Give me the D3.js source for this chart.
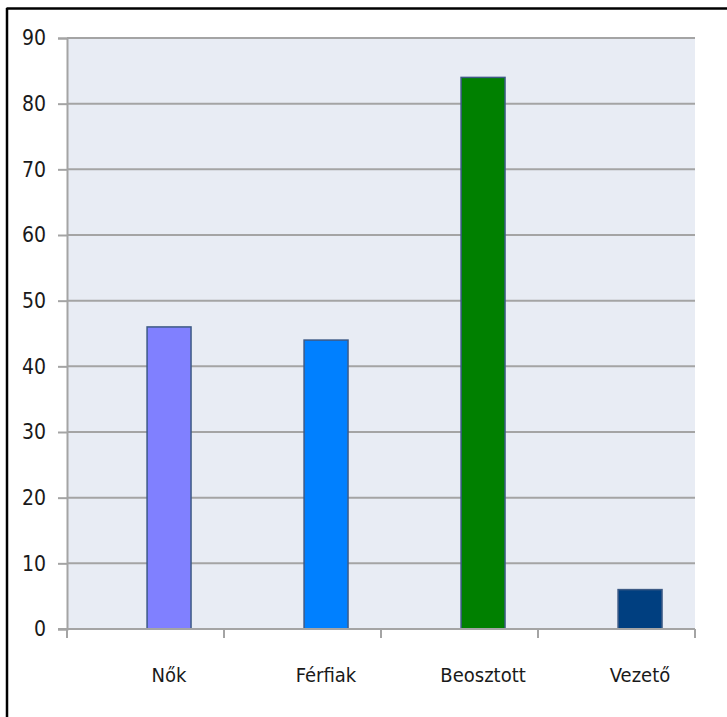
<!DOCTYPE html>
<html>
<head>
<meta charset="utf-8">
<script src="https://cdn.jsdelivr.net/npm/d3@7"></script>
<style>
  html, body { margin: 0; padding: 0; background: #ffffff; }
  svg { display: block; }
  text { font-family: "Liberation Sans Narrow", "DejaVu Sans Condensed", "DejaVu Sans", sans-serif; font-stretch: condensed; fill: #1a1a1a; }
</style>
</head>
<body>
<svg id="chart" width="727" height="717"></svg>
<script>
const categories = ["Nők", "Férfiak", "Beosztott", "Vezető"];
const values = [46, 44, 84, 6];
const barColors = ["#8080ff", "#0080ff", "#008000", "#003f80"];
const yTicks = [0, 10, 20, 30, 40, 50, 60, 70, 80, 90];

const svg = d3.select("#chart");
const W = 727, H = 717;
const plot = { left: 67, top: 38, right: 695, bottom: 629 };

// frame lines along top and left edges
svg.append("line").attr("x1", 6.5).attr("x2", W).attr("y1", 8.5).attr("y2", 8.5)
  .attr("stroke", "#000").attr("stroke-width", 2.5);
svg.append("line").attr("x1", 7).attr("x2", 7).attr("y1", 8).attr("y2", H)
  .attr("stroke", "#000").attr("stroke-width", 2.5);

const x = d3.scaleBand().domain(categories).range([plot.left, plot.right]).padding(0);
const y = d3.scaleLinear().domain([0, 90]).range([plot.bottom, plot.top]);

// plot background
svg.append("rect")
  .attr("x", plot.left).attr("y", plot.top)
  .attr("width", plot.right - plot.left).attr("height", plot.bottom - plot.top)
  .attr("fill", "#e8ecf4");

// horizontal gridlines
svg.append("g").selectAll("line").data(yTicks.filter(d => d > 0)).join("line")
  .attr("x1", plot.left).attr("x2", plot.right)
  .attr("y1", d => y(d)).attr("y2", d => y(d))
  .attr("stroke", "#a4a4a4").attr("stroke-width", 2);

// y axis
const yAxis = svg.append("g").attr("transform", `translate(${plot.left},0)`)
  .call(d3.axisLeft(y).tickValues(yTicks).tickSize(9).tickPadding(12).tickFormat(d3.format("d")));
yAxis.select(".domain").attr("stroke", "#a4a4a4").attr("stroke-width", 2);
yAxis.selectAll(".tick line").attr("stroke", "#a4a4a4").attr("stroke-width", 2);
yAxis.selectAll("text").style("font-size", "21px").attr("fill", "#1a1a1a");

// bars, offset within each category band
const barOffset = 0.51, barWidth = 0.28;
svg.append("g").selectAll("rect").data(values).join("rect")
  .attr("x", (d, i) => x(categories[i]) + x.bandwidth() * barOffset)
  .attr("width", x.bandwidth() * barWidth)
  .attr("y", d => y(d))
  .attr("height", d => y(0) - y(d))
  .attr("fill", (d, i) => barColors[i])
  .attr("stroke", "#3d5a85").attr("stroke-width", 1.5);

// x axis
const xAxis = svg.append("g").attr("transform", `translate(0,${plot.bottom})`);
xAxis.append("line").attr("x1", plot.left - 9).attr("x2", plot.right)
  .attr("stroke", "#a4a4a4").attr("stroke-width", 2);
const boundaries = categories.map(c => x(c)).concat([plot.right]);
xAxis.selectAll("line.tk").data(boundaries).join("line").attr("class", "tk")
  .attr("x1", d => d).attr("x2", d => d).attr("y1", 0).attr("y2", 9)
  .attr("stroke", "#a4a4a4").attr("stroke-width", 2);
xAxis.selectAll("text").data(categories).join("text")
  .attr("x", c => x(c) + x.bandwidth() * (barOffset + barWidth / 2))
  .attr("y", 53)
  .attr("text-anchor", "middle")
  .style("font-size", "20px")
  .text(d => d);
</script>
</body>
</html>
